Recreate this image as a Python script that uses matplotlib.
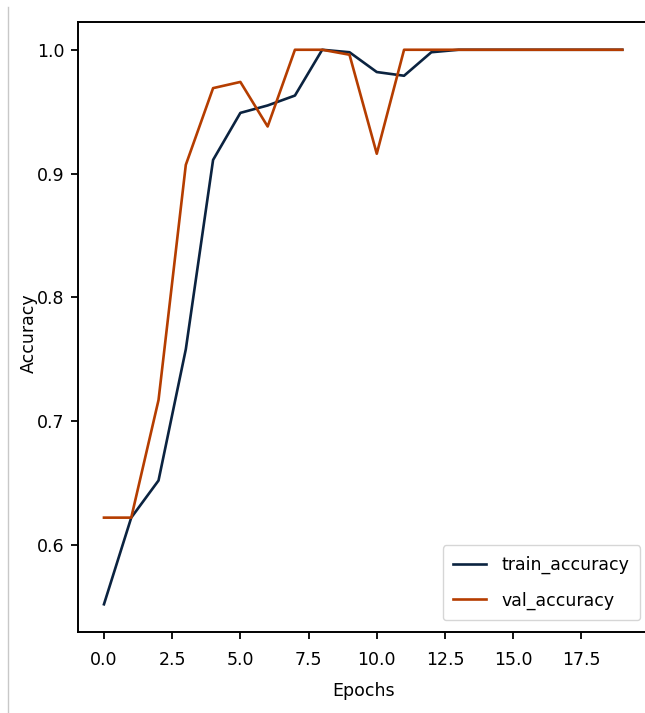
import matplotlib
matplotlib.use("Agg")
import matplotlib.pyplot as plt
from matplotlib.lines import Line2D

epochs = list(range(20))
train_accuracy = [0.552, 0.622, 0.652, 0.758, 0.911, 0.949, 0.955, 0.963, 1.0, 0.998,
                  0.982, 0.979, 0.998, 1.0, 1.0, 1.0, 1.0, 1.0, 1.0, 1.0]
val_accuracy = [0.622, 0.622, 0.717, 0.907, 0.969, 0.974, 0.938, 1.0, 1.0, 0.996,
                0.916, 1.0, 1.0, 1.0, 1.0, 1.0, 1.0, 1.0, 1.0, 1.0]

TRAIN_C, VAL_C = "#0b2340", "#b53d00"

plt.rcParams.update({"font.family": "DejaVu Sans", "font.size": 12})
fig = plt.figure(figsize=(6.45, 7.13), dpi=100, facecolor="white")
ax = fig.add_axes([0.121, 0.1136, 0.884, 0.8555])

ax.plot(epochs, train_accuracy, color=TRAIN_C, lw=1.9, label="train_accuracy")
ax.plot(epochs, val_accuracy, color=VAL_C, lw=1.9, label="val_accuracy")

ax.set_xlabel("Epochs", fontsize=12.5)
ax.set_ylabel("Accuracy", fontsize=12.5)
ax.xaxis.set_label_coords(0.5, -0.082)
ax.yaxis.set_label_coords(-0.071, 0.49)
ax.set_yticks([0.6, 0.7, 0.8, 0.9, 1.0])
for s in ax.spines.values():
    s.set_linewidth(1.4)
ax.tick_params(width=1.3, length=5, labelsize=12.5)
ax.tick_params(axis="x", pad=9)
ax.tick_params(axis="y", pad=5)
ax.legend(loc="lower right", fontsize=12.5, handlelength=1.9, handletextpad=0.9,
          borderpad=0.6, labelspacing=1.0, borderaxespad=0,
          bbox_to_anchor=(0.986, 0.0197))

# thin grey border line at the left edge of the screenshot
fig.add_artist(Line2D([8 / 645, 8 / 645], [1 - 7 / 713, 0.0], color="#c8c8c8", lw=1.0,
                      transform=fig.transFigure))

fig.savefig("out.png", dpi=100, facecolor="white")
